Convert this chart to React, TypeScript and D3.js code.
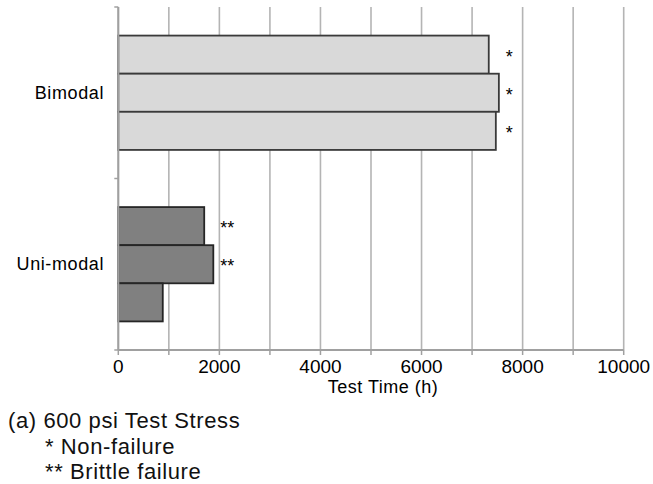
import * as d3 from 'd3'

// chart values
const categories = ['Bimodal', 'Uni-modal']
const bimodalHours = [7330, 7530, 7470]
const unimodalHours = [1700, 1880, 880]
const bimodalMarks = ['*', '*', '*']
const unimodalMarks = ['**', '**', '']
const xTicks = [0, 2000, 4000, 6000, 8000, 10000]
const gridTicks = [0, 1000, 2000, 3000, 4000, 5000, 6000, 7000, 8000, 9000, 10000]
const captionLines = ['(a) 600 psi Test Stress', '* Non-failure', '** Brittle failure']

const groups = [
  { name: categories[0], values: bimodalHours, marks: bimodalMarks, fill: '#d9d9d9', stroke: '#3a3a3a' },
  { name: categories[1], values: unimodalHours, marks: unimodalMarks, fill: '#808080', stroke: '#262626' },
]

const W = 653
const H = 484
const left = 118.3
const right = 623.7
const top = 7
const bottom = 350
const font = '"Liberation Sans", Arial, sans-serif'

const App = () => {
  const x = d3.scaleLinear().domain([0, 10000]).range([left, right])
  const y = d3.scaleBand().domain(categories).range([top, bottom])
  const bw = y.bandwidth()
  // excel style gap width 50%
  const inner = d3.scaleBand<number>().domain([0, 1, 2]).range([bw / 6, (bw * 5) / 6])

  return (
    <svg width={W} height={H} style={{ position: 'fixed', left: 0, top: 0, background: '#fff' }}>
      {/* vertical grid */}
      {gridTicks.map(t => (
        <line key={'g' + t} x1={x(t)} x2={x(t)} y1={top} y2={bottom} stroke="#b4b4b4" strokeWidth={1.6} />
      ))}

      {/* bars */}
      {groups.map(g => {
        const y0 = y(g.name)!
        const maxX = x(d3.max(g.values)!)
        return (
          <g key={g.name}>
            {g.values.map((v, i) => (
              <rect
                key={i}
                x={x(0)}
                y={y0 + inner(i)!}
                width={x(v) - x(0)}
                height={inner.bandwidth()}
                fill={g.fill}
                stroke={g.stroke}
                strokeWidth={1.8}
              />
            ))}
            {g.marks.map((m, i) => (
              <text
                key={'m' + i}
                x={maxX + 7}
                y={y0 + inner(i)! + inner.bandwidth() / 2 + 8}
                fontFamily={font}
                fontSize={18}
                fill="#000"
              >
                {m}
              </text>
            ))}
            <text
              x={104}
              y={y0 + bw / 2 + 6}
              textAnchor="end"
              fontFamily={font}
              fontSize={18}
              letterSpacing={0.6}
              fill="#000"
            >
              {g.name}
            </text>
          </g>
        )
      })}

      {/* y axis */}
      <line x1={left} x2={left} y1={top} y2={bottom} stroke="#a0a0a0" strokeWidth={2} />
      {[top, y(categories[1])!, bottom].map((v, i) => (
        <line key={'yt' + i} x1={left - 4} x2={left} y1={v} y2={v} stroke="#a0a0a0" strokeWidth={1.5} />
      ))}

      {/* x axis */}
      <line x1={left} x2={right} y1={bottom} y2={bottom} stroke="#a0a0a0" strokeWidth={2} />
      {gridTicks.map(t => (
        <line key={'xt' + t} x1={x(t)} x2={x(t)} y1={bottom} y2={bottom + 5} stroke="#a0a0a0" strokeWidth={1.5} />
      ))}
      {xTicks.map(t => (
        <text key={'xl' + t} x={x(t)} y={373} textAnchor="middle" fontFamily={font} fontSize={19} fill="#000">
          {t}
        </text>
      ))}
      <text x={383} y={393} textAnchor="middle" fontFamily={font} fontSize={18} letterSpacing={0.5} fill="#000">
        Test Time (h)
      </text>

      {/* caption */}
      {captionLines.map((c, i) => (
        <text
          key={'c' + i}
          x={i === 0 ? 8 : 45}
          y={428 + i * 25.5}
          fontFamily={font}
          fontSize={22}
          letterSpacing={0.6}
          fill="#111"
        >
          {c}
        </text>
      ))}
    </svg>
  )
}

export default App
